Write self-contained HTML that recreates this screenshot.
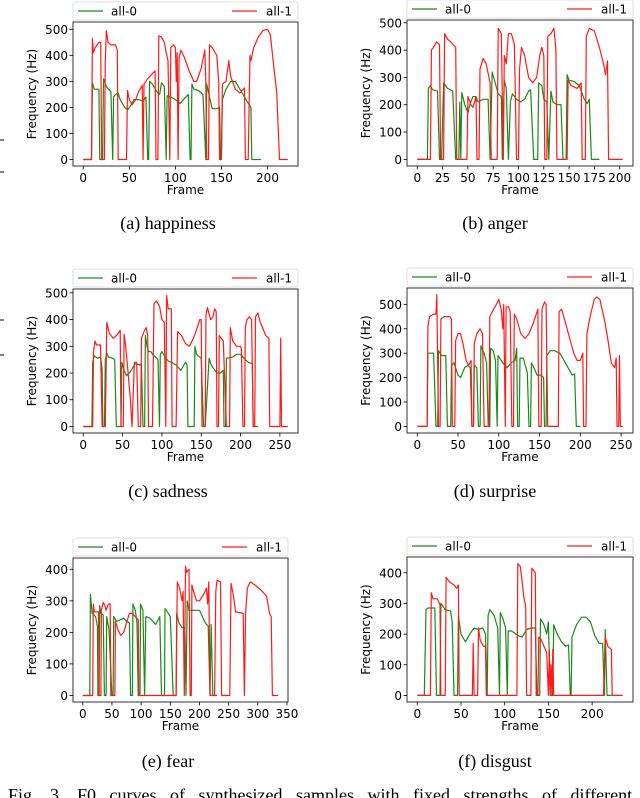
<!DOCTYPE html>
<html><head><meta charset="utf-8"><style>
html,body{margin:0;padding:0;background:#fff;}
body{width:640px;height:798px;overflow:hidden;position:relative;}
svg{position:absolute;left:0;top:0;}
.cap{font-family:"Liberation Serif",serif;font-size:18px;fill:#000;}
.tk{font-family:"DejaVu Sans","Liberation Sans",sans-serif;font-size:12px;fill:#000;}
</style></head><body>
<svg id="fig" width="640" height="798" viewBox="0 0 640 798"></svg>
<script>
// ---- data: [frame, Hz] pairs ----
const happinessAll0=[0,0,9,0,10,295,12,270,17,270,18,0,21,0,22,310,25,280,30,260,32,0,33,240,35,250,38,255,40,230,45,200,48,190,52,210,55,230,60,230,65,225,68,240,70,0,71,0,72,300,75,290,80,260,83,250,85,295,88,280,90,0,91,245,95,240,100,230,105,215,110,235,114,250,116,0,117,0,118,290,120,270,125,265,130,250,133,0,134,290,137,240,140,195,145,195,148,200,149,0,150,0,151,230,155,270,160,300,165,300,170,270,175,240,180,210,182,200,183,0,193,0];
const happinessAll1=[0,0,9,0,10,465,11,410,13,430,17,450,19,450,20,0,23,0,24,380,25,495,27,450,30,440,35,440,37,420,38,0,47,0,48,265,50,230,53,210,57,230,60,260,64,285,65,0,66,290,70,310,75,330,78,340,79,0,81,0,82,475,85,470,88,450,90,410,92,380,94,0,95,430,98,440,100,430,101,300,102,410,103,0,104,390,106,420,110,390,115,340,120,300,123,300,128,350,132,420,133,300,134,0,136,0,137,440,140,430,145,400,147,300,148,0,150,0,151,290,155,300,158,380,160,320,165,270,170,255,175,275,176,0,179,0,181,400,182,380,185,430,190,470,195,495,200,500,203,480,207,350,210,260,213,0,222,0];
const angerAll0=[0,0,10,0,11,260,13,270,15,255,20,250,22,0,24,0,26,280,30,260,35,250,38,0,41,0,42,210,43,0,44,245,47,200,50,170,52,200,55,230,58,230,60,210,65,220,70,220,72,0,74,320,77,280,80,240,83,230,84,0,86,290,88,260,90,0,92,210,94,240,98,220,102,210,106,220,110,250,112,255,115,0,119,0,120,280,123,270,125,220,128,210,130,0,132,250,134,210,138,200,142,200,144,0,147,0,148,310,150,290,155,285,160,270,165,220,168,205,170,220,172,0,180,0];
const angerAll1=[0,0,13,0,14,400,16,410,19,430,22,420,23,0,26,0,27,460,30,440,33,430,38,410,39,0,49,0,50,230,53,200,55,190,58,230,59,0,61,0,62,330,65,370,68,350,72,280,73,0,79,0,80,480,83,460,85,0,86,380,88,350,90,460,93,460,96,420,98,0,100,0,101,330,103,410,106,380,110,300,114,280,118,300,121,380,123,410,125,380,126,0,128,0,129,450,132,460,135,480,137,400,138,0,148,0,149,290,152,270,158,260,162,280,163,0,166,0,167,450,170,480,175,470,180,410,184,350,186,310,188,360,189,0,203,0];
const sadnessAll0=[0,0,11,0,12,240,14,265,18,255,22,260,24,215,25,0,27,0,28,250,30,275,32,260,38,255,40,250,42,0,48,0,49,240,52,210,55,190,60,205,63,220,66,235,72,230,74,235,76,0,78,0,79,340,81,300,83,280,86,280,88,270,92,260,95,250,97,0,98,270,100,280,104,260,108,245,112,240,118,230,124,210,128,230,130,240,132,230,133,0,141,0,142,300,144,270,150,255,153,0,155,0,160,255,162,235,165,220,170,200,174,200,178,210,179,0,181,0,182,255,190,260,195,270,200,270,206,250,210,240,215,235,216,0,222,0];
const sadnessAll1=[0,0,12,0,13,280,15,320,17,305,22,305,24,0,28,0,30,390,33,350,38,330,42,340,45,350,47,360,48,0,51,0,52,345,54,300,57,200,60,100,62,0,65,240,68,240,70,0,73,0,74,330,78,360,80,370,82,340,83,0,88,0,90,460,93,470,97,450,100,400,103,390,105,0,106,490,108,440,112,440,113,0,118,0,120,355,125,340,130,310,135,300,140,330,145,370,148,400,150,400,151,0,155,0,156,420,158,445,160,420,162,400,165,410,167,440,169,430,170,0,172,0,173,340,178,320,182,0,186,0,187,370,190,320,195,300,200,300,201,290,203,0,205,0,206,370,208,400,211,410,214,400,216,0,218,0,219,410,222,425,225,390,228,370,232,340,236,330,237,0,250,0,251,330,252,0,260,0];
const surpriseAll0=[0,0,12,0,13,300,20,300,23,0,25,0,26,310,30,290,35,290,37,0,41,0,42,250,45,260,50,210,53,200,58,240,62,250,65,240,67,0,69,0,70,250,73,240,75,0,77,0,78,330,82,300,85,260,87,0,89,0,90,320,93,310,96,270,98,0,99,290,105,260,110,240,115,260,120,270,122,320,123,0,125,0,126,280,130,280,135,220,137,0,139,0,140,260,143,240,147,210,152,210,155,200,156,0,158,0,159,290,163,310,168,310,175,300,180,270,185,240,190,210,193,215,195,0,200,0];
const surpriseAll1=[0,0,12,0,13,410,15,450,20,460,23,460,24,540,26,0,28,0,29,440,33,450,40,450,42,440,43,0,46,0,47,350,50,380,53,380,56,340,60,270,63,250,66,270,67,0,69,0,70,340,73,380,77,400,80,380,82,0,88,0,89,450,92,470,97,500,100,520,103,480,105,400,106,500,108,0,109,490,112,490,114,470,116,0,118,0,119,460,122,440,127,380,132,360,137,380,142,420,146,460,148,480,149,0,152,0,153,480,156,510,158,500,160,0,173,0,174,470,177,480,182,420,187,360,192,300,196,270,200,270,203,300,204,0,207,0,208,380,212,450,217,520,220,530,224,520,230,430,234,350,238,260,242,240,244,280,245,0,247,0,248,290,249,0,252,0];
const fearAll0=[0,0,12,0,13,320,16,260,22,250,25,220,26,0,28,0,29,285,31,260,35,255,37,0,40,0,41,250,45,210,50,0,52,0,53,250,58,235,65,240,70,245,75,235,80,230,82,0,85,0,86,290,90,270,93,230,95,0,98,0,99,290,103,270,106,0,108,250,115,245,125,225,132,250,135,0,140,0,141,275,145,265,150,250,155,0,160,0,161,260,165,230,170,215,175,215,177,0,179,300,182,270,190,270,200,270,205,250,210,230,215,220,218,0,220,225,223,0,230,0];
const fearAll1=[0,0,17,0,18,290,20,265,27,265,28,0,31,0,32,270,35,295,38,285,40,270,44,290,47,290,48,0,55,0,56,235,60,210,65,190,70,200,75,230,80,260,85,260,90,250,95,240,96,0,160,0,162,360,166,340,170,300,172,330,174,0,176,410,178,390,182,400,184,0,186,0,187,350,190,330,195,300,200,300,207,320,212,340,214,290,216,360,218,0,226,0,228,330,230,365,236,360,238,0,252,0,254,355,258,320,262,265,275,260,277,0,279,260,282,340,287,360,295,350,305,335,315,315,320,260,323,250,325,0,335,0];
const disgustAll0=[0,0,8,0,10,280,12,285,20,285,22,0,26,0,27,300,32,280,38,275,40,240,42,0,46,0,47,260,50,200,55,175,60,200,65,220,70,215,75,220,78,200,80,0,81,260,83,280,88,260,92,220,94,0,95,270,98,250,101,220,103,0,104,210,108,210,115,195,120,190,125,215,130,220,135,220,137,0,140,0,141,250,145,230,148,200,150,240,152,0,155,0,156,230,160,200,165,175,170,160,173,165,175,0,176,0,177,190,182,230,188,255,193,255,198,240,203,195,208,170,212,170,214,0,215,215,217,0,222,0];
const disgustAll1=[0,0,15,0,16,335,18,315,23,315,26,295,27,0,32,0,33,385,37,370,42,360,45,350,47,360,48,0,63,0,64,170,65,0,69,0,70,220,72,180,76,160,78,160,79,0,114,0,115,430,118,420,122,320,124,290,125,0,130,0,131,415,135,400,136,0,138,0,139,190,142,180,145,160,148,140,150,0,151,150,152,0,153,100,154,0,155,150,156,0,213,0,215,190,218,160,222,150,223,0,235,0];
const yTicksA=[0,100,200,300,400,500];
const yTicksE=[0,100,200,300,400];
const xTicksA=[0,50,100,150,200];
const xTicksB=[0,25,50,75,100,125,150,175,200];
const xTicksC=[0,50,100,150,200,250];
const xTicksE=[0,50,100,150,200,250,300,350];
const captions=["(a) happiness","(b) anger","(c) sadness","(d) surprise","(e) fear","(f) disgust"];

const panels=[
 {id:'happiness',box:[73,22,298,166],xmax:222,ymax:503,g:happinessAll0,r:happinessAll1,xt:xTicksA,yt:yTicksA,cap:captions[0],capY:229},
 {id:'anger',box:[407,20,633,166],xmax:203,ymax:486,g:angerAll0,r:angerAll1,xt:xTicksB,yt:yTicksA,cap:captions[1],capY:229},
 {id:'sadness',box:[73,289,298,433],xmax:260,ymax:490,g:sadnessAll0,r:sadnessAll1,xt:xTicksC,yt:yTicksA,cap:captions[2],capY:497},
 {id:'surprise',box:[407,288,633,433],xmax:252,ymax:540,g:surpriseAll0,r:surpriseAll1,xt:xTicksC,yt:yTicksA,cap:captions[3],capY:497},
 {id:'fear',box:[73,558,288,702],xmax:335,ymax:415,g:fearAll0,r:fearAll1,xt:xTicksE,yt:yTicksE,cap:captions[4],capY:767},
 {id:'disgust',box:[407,557,633,702],xmax:235,ymax:430,g:disgustAll0,r:disgustAll1,xt:xTicksA,yt:yTicksE,cap:captions[5],capY:767}
];
const NS='http://www.w3.org/2000/svg';
const svg=document.getElementById('fig');
function mk(tag,attrs,parent){const e=document.createElementNS(NS,tag);for(const k in attrs)e.setAttribute(k,attrs[k]);(parent||svg).appendChild(e);return e;}

panels.forEach(p=>{
 const [x0,y0,x1,y1]=p.box;
 const g=mk('g',{});
 
 
 const xmin=-p.xmax*0.05, xmx=p.xmax*1.05, ymin=-p.ymax*0.05, ymx=p.ymax*1.05;
 const sx=v=>x0+(v-xmin)/(xmx-xmin)*(x1-x0);
 const sy=v=>y1-(v-ymin)/(ymx-ymin)*(y1-y0);
 const frame=mk('rect',{x:x0,y:y0,width:x1-x0,height:y1-y0,fill:'none',stroke:'#333','stroke-width':1},g);
 
 
 p.yt.forEach(v=>{
  const y=sy(v);
  const t=mk('line',{x1:x0-3.5,x2:x0,y1:y,y2:y,stroke:'#000','stroke-width':0.8},g);
  
  
  const l=mk('text',{x:x0-5,y:y+4.5,'text-anchor':'end',class:'tk'},g);
  l.textContent=v;
  
  
 });
 p.xt.forEach(v=>{
  const x=sx(v);
  const t=mk('line',{x1:x,x2:x,y1:y1,y2:y1+3.5,stroke:'#000','stroke-width':0.8},g);
  
  
  const l=mk('text',{x:x,y:y1+16,'text-anchor':'middle',class:'tk'},g);
  l.textContent=v;
  
  
 });
 const xl=mk('text',{x:(x0+x1)/2,y:y1+28,'text-anchor':'middle',class:'tk'},g);
 xl.textContent='Frame';
 
 
 const yl=mk('text',{x:0,y:0,'text-anchor':'middle',class:'tk',transform:`translate(${x0-37},${(y0+y1)/2}) rotate(-90)`},g);
 yl.textContent='Frequency (Hz)';
 
 
 [[p.g,'#1a8a1a','all-0'],[p.r,'#ff1a1a','all-1']].forEach(([d,c,n])=>{
  let s='';
  for(let i=0;i<d.length;i+=2){s+=(i?'L':'M')+sx(d[i]).toFixed(1)+','+sy(d[i+1]).toFixed(1);}
  const path=mk('path',{d:s,fill:'none',stroke:c,'stroke-width':1.2,'stroke-linejoin':'round'},g);
  
  
 });
 const lg=mk('g',{},g);
 
 
 mk('rect',{x:x0,y:y0-20,width:x1-x0,height:18,rx:2,fill:'#fff','fill-opacity':0.85,stroke:'#d8d8d8','stroke-width':0.8},lg);
 const ly=y0-11;
 mk('line',{x1:x0+5,x2:x0+30,y1:ly,y2:ly,stroke:'#1a8a1a','stroke-width':1.3},lg);
 const t0=mk('text',{x:x0+38,y:ly+4.5,class:'tk'},lg);t0.textContent='all-0';
 
 
 mk('line',{x1:x1-66,x2:x1-41,y1:ly,y2:ly,stroke:'#ff1a1a','stroke-width':1.3},lg);
 const t1=mk('text',{x:x1-32,y:ly+4.5,class:'tk'},lg);t1.textContent='all-1';
 
 
 const cp=mk('text',{x:(x0<200?168:495),y:p.capY,'text-anchor':'middle',class:'cap'},g);
 cp.textContent=p.cap;
 
 
});
[140,172,320,355].forEach(a=>{
 const m=mk('line',{x1:0,x2:4,y1:a,y2:a,stroke:'#000','stroke-width':1});
 
 
});
const fc=mk('text',{x:8,y:801,class:'cap','word-spacing':'9px'});
fc.textContent='Fig. 3.  F0 curves of synthesized samples with fixed strengths of different';


</script>
</body></html>
